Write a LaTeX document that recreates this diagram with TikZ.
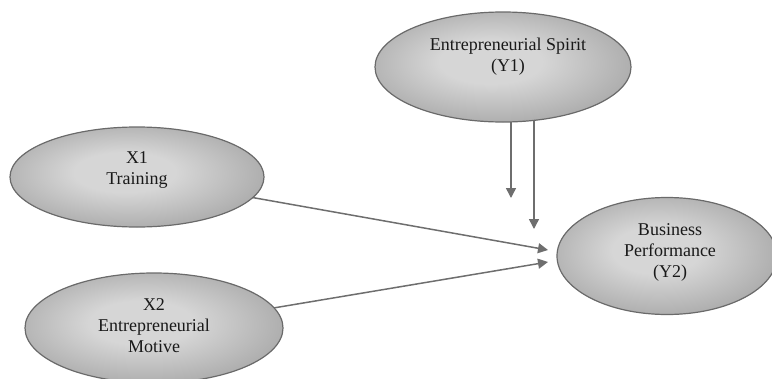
\documentclass[tikz,border=0pt]{standalone}
\usepackage{fontspec}
\setmainfont{Liberation Serif}
\usetikzlibrary{shapes.geometric,arrows.meta,backgrounds}
\definecolor{shadelight}{HTML}{D6D6D6}
\definecolor{shadedark}{HTML}{808080}
\definecolor{edgegray}{HTML}{6A6A6A}
\definecolor{arrowgray}{HTML}{6E6E6E}
\pgfdeclareradialshading{ellshade}{\pgfpoint{-3bp}{3bp}}{color(0bp)=(shadelight); color(10bp)=(shadelight); color(46bp)=(shadedark); color(50bp)=(shadedark)}
\begin{document}
\begin{tikzpicture}[x=1pt,y=-1pt,
  oval/.style={ellipse, draw=edgegray, line width=1.2pt, shading=ellshade, inner sep=0pt, outer sep=0pt},
  lbl/.style={align=center, font=\fontsize{18}{21}\selectfont, text=black!90},
  arr/.style={draw=arrowgray, line width=1.5pt, -{Triangle[length=10pt,width=10pt]}}]
\useasboundingbox (0,0) rectangle (772,378);
\clip (0,0) rectangle (772,378);
% ellipses
\node[oval, minimum width=256pt, minimum height=110pt] (Y1) at (503,67) {};
\node[oval, minimum width=254pt, minimum height=100pt] (X1) at (137,177) {};
\node[oval, minimum width=258pt, minimum height=110pt] (X2) at (154,328) {};
\node[oval, minimum width=220pt, minimum height=117pt] (Y2) at (667,256) {};
% labels
\node[lbl] (Y1t) at (508,57) {Entrepreneurial Spirit\\(Y1)};
\node[lbl] (X1t) at (137,170) {X1\\Training};
\node[lbl] (X2t) at (154,326) {X2\\Entrepreneurial\\Motive};
\node[lbl] (Y2t) at (670,252) {Business\\Performance\\(Y2)};
% arrow tips
\coordinate (a1) at (511,198);
\coordinate (a2) at (534,229);
\coordinate (b1) at (548,250);
\coordinate (b2) at (548,262);
\begin{scope}[on background layer]
\draw[arr] (Y1.center -| a1) -- (a1);
\draw[arr] (Y1.center -| a2) -- (a2);
\draw[arr] (X1.center) -- (b1);
\draw[arr] (X2.center) -- (b2);
\end{scope}
\end{tikzpicture}
\end{document}
